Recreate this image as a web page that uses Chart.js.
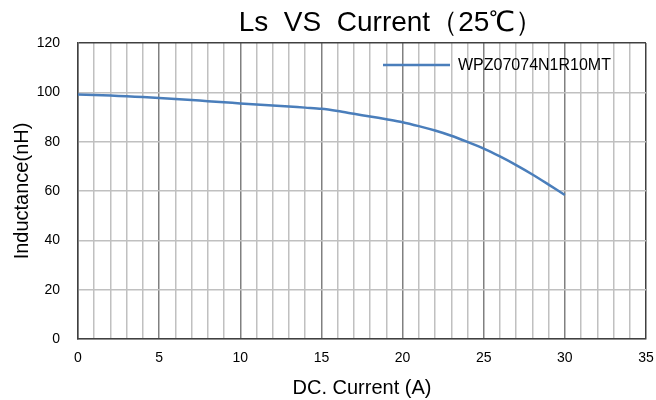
<!DOCTYPE html>
<html>
<head>
<meta charset="utf-8">
<script src="https://cdn.jsdelivr.net/npm/chart.js@4/dist/chart.umd.min.js"></script>
<style>
  html, body { margin: 0; padding: 0; background: #fff; }
  #wrap { width: 656px; height: 400px; }
</style>
</head>
<body>
<div id="wrap"><canvas id="lsChart"></canvas></div>
<script>
// --- Data ---
const currentA = [0, 1, 2, 3, 4, 5, 6, 7, 8, 9, 10, 11, 12, 13, 14, 15,
                  16, 17, 18, 19, 20, 21, 22, 23, 24, 25, 26, 27, 28, 29, 30];
const inductanceNH = [99.1, 98.9, 98.7, 98.4, 98.1, 97.7, 97.3, 96.9, 96.4, 96.0, 95.5,
                      95.1, 94.7, 94.3, 93.8, 93.3, 92.4, 91.3, 90.2, 89.1, 87.9,
                      86.3, 84.5, 82.4, 79.9, 77.2, 74.0, 70.5, 66.7, 62.6, 58.4];
const seriesName = 'WPZ07074N1R10MT';
const xTicks = [0, 5, 10, 15, 20, 25, 30, 35];
const yTicks = [0, 20, 40, 60, 80, 100, 120];
const titleText = 'Ls  VS  Current（25℃）';

const FONT = 'Arial, "Liberation Sans", sans-serif';
const LINE_COLOR = '#4a7ebb';

// --- Title and in-plot legend, drawn like the original (offset right) ---
const overlayPlugin = {
    id: 'overlay',
    afterDraw(chart) {
        const c = chart.ctx;
        const area = chart.chartArea;
        c.save();
        c.font = '28px ' + FONT;
        c.fillStyle = '#000';
        c.textAlign = 'center';
        c.textBaseline = 'alphabetic';
        c.fillText(titleText, 391, 31);

        // legend entry inside the plot, top right
        const ly = area.top + 22;
        const lx = area.right - 263;
        c.strokeStyle = LINE_COLOR;
        c.lineWidth = 2.5;
        c.beginPath();
        c.moveTo(lx, ly);
        c.lineTo(lx + 67, ly);
        c.stroke();
        c.font = '16px ' + FONT;
        c.textAlign = 'left';
        c.textBaseline = 'middle';
        c.fillStyle = '#000';
        c.fillText(chart.data.datasets[0].label, lx + 75, ly + 1);
        c.restore();
    }
};

const ctx = document.getElementById('lsChart').getContext('2d');
const chart = new Chart(ctx, {
    type: 'line',
    data: {
        datasets: [{
            label: seriesName,
            data: currentA.map((x, i) => ({ x: x, y: inductanceNH[i] })),
            borderColor: LINE_COLOR,
            backgroundColor: LINE_COLOR,
            borderWidth: 2.5,
            pointRadius: 0,
            tension: 0.3,
            fill: false
        }]
    },
    options: {
        responsive: true,
        maintainAspectRatio: false,
        animation: false,
        layout: { padding: { top: 43, right: 10, left: 0, bottom: 0 } },
        plugins: {
            title: { display: false },
            tooltip: { enabled: false },
            legend: { display: false }
        },
        scales: {
            x: {
                type: 'linear',
                min: 0,
                max: 35,
                afterBuildTicks(scale) {
                    const t = [];
                    for (let v = 0; v <= 35; v++) t.push({ value: v });
                    scale.ticks = t;
                },
                afterFit(scale) {
                    scale.height = 61;
                    scale.paddingLeft = 0;
                    scale.paddingRight = 0;
                },
                ticks: {
                    autoSkip: false,
                    maxRotation: 0,
                    padding: 11,
                    color: '#000',
                    font: { family: FONT, size: 14 },
                    callback: v => xTicks.includes(v) ? String(v) : ''
                },
                grid: {
                    drawTicks: false,
                    lineWidth: 1.5,
                    color: c => {
                        const v = c.tick ? c.tick.value : 0;
                        if (v === 35) return '#404040';
                        return v % 5 === 0 ? '#808080' : '#c0c0c0';
                    }
                },
                border: { color: '#404040', width: 1.5 },
                title: {
                    display: true,
                    text: 'DC. Current (A)',
                    color: '#000',
                    font: { family: FONT, size: 20 },
                    padding: { top: 10, bottom: 0 }
                }
            },
            y: {
                min: 0,
                max: 120,
                afterBuildTicks(scale) {
                    scale.ticks = yTicks.map(v => ({ value: v }));
                },
                afterFit(scale) {
                    scale.width = 78;
                    scale.paddingTop = 0;
                    scale.paddingBottom = 0;
                },
                ticks: {
                    padding: 18,
                    color: '#000',
                    font: { family: FONT, size: 14 }
                },
                grid: {
                    drawTicks: false,
                    lineWidth: 1.5,
                    color: c => (c.tick && c.tick.value === 120) ? '#404040' : '#c0c0c0'
                },
                border: { color: '#404040', width: 1.5 },
                title: {
                    display: true,
                    text: 'Inductance(nH)',
                    color: '#000',
                    font: { family: FONT, size: 20 },
                    padding: { top: 10, bottom: 0 }
                }
            }
        }
    },
    plugins: [overlayPlugin]
});
</script>
</body>
</html>
